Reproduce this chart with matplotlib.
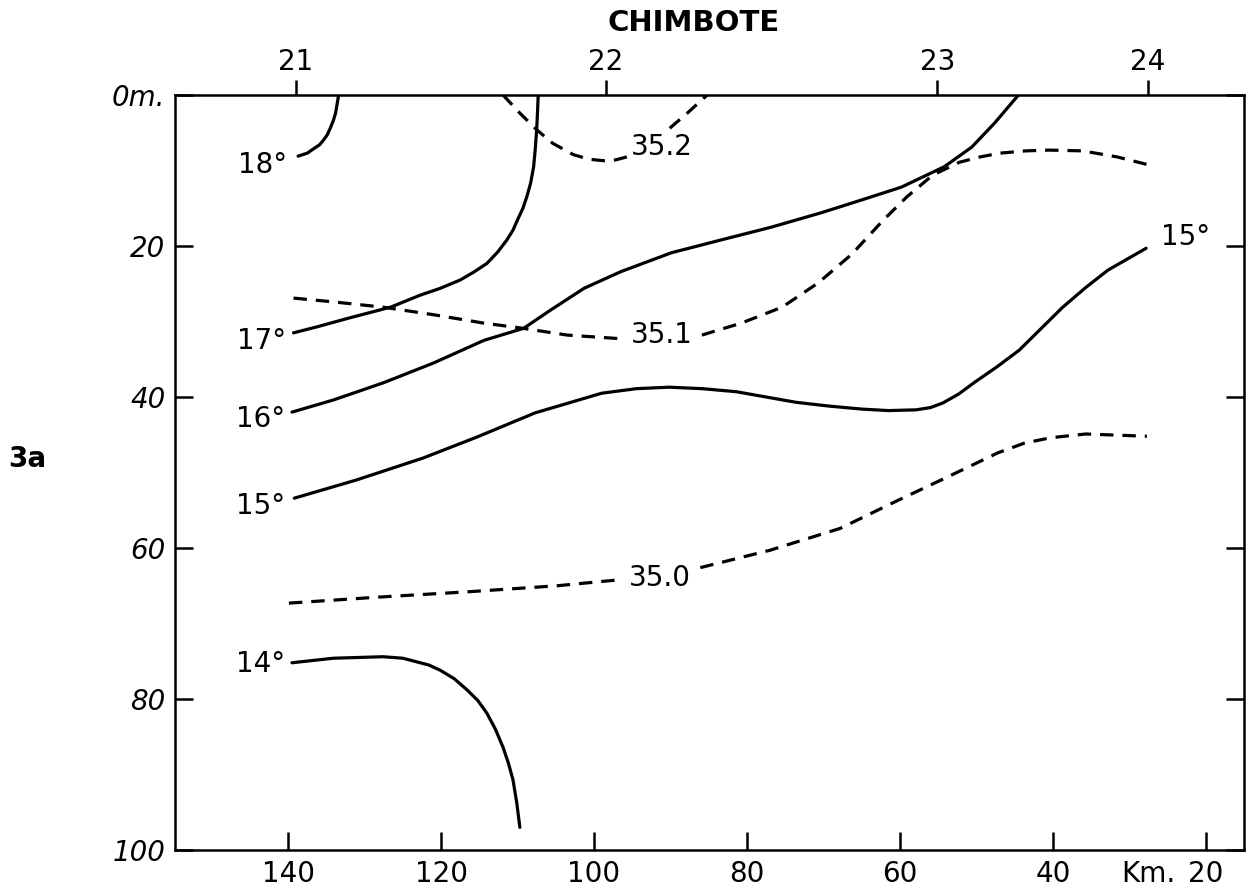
import matplotlib.pyplot as plt
plt.switch_backend('agg')

# stations along the section (distance in km) and their numbers
station_km = [139.0, 98.5, 55.1, 27.6]
station_names = ['21', '22', '23', '24']

km_ticks = [140, 120, 100, 80, 60, 40, 20]
km_labels = ['140', '120', '100', '80', '60', '40', '20']
depth_ticks = [0, 20, 40, 60, 80, 100]
depth_labels = ['0m.', '20', '40', '60', '80', '100']

# isotherms (km, depth in m)
t18_km = [133.4, 133.6, 133.8, 134.1, 134.5, 134.9, 135.4, 135.9, 136.5, 137.5, 138.1, 138.7]
t18_depth = [0.0, 1.2, 2.4, 3.4, 4.4, 5.3, 6.0, 6.6, 7.0, 7.7, 7.9, 8.1]

t17_km = [107.3, 107.4, 107.5, 107.7, 107.9, 108.3, 108.8, 109.3, 109.9, 110.6, 111.4, 112.6,
          114.0, 115.8, 117.5, 120.1, 122.7, 126.6, 131.9, 136.2, 139.3]
t17_depth = [0.0, 2.4, 4.6, 7.3, 9.5, 11.7, 13.5, 15.0, 16.3, 17.9, 19.2, 20.8,
             22.3, 23.5, 24.5, 25.6, 26.5, 28.1, 29.5, 30.7, 31.5]

t16_km = [139.5, 134.1, 127.5, 121.0, 114.4, 109.2, 105.7, 101.3, 96.5, 89.9, 83.4, 76.8,
          70.3, 65.0, 59.8, 54.2, 50.6, 47.6, 44.5]
t16_depth = [42.0, 40.4, 38.1, 35.5, 32.5, 30.9, 28.5, 25.6, 23.4, 20.9, 19.2, 17.5,
             15.6, 13.9, 12.2, 9.5, 6.9, 3.7, 0.0]

t15_km = [139.2, 131.1, 122.4, 115.3, 107.7, 99.0, 94.5, 90.2, 85.8, 81.4, 77.5, 73.6, 69.3,
          65.0, 61.5, 57.9, 56.0, 54.4, 52.3, 50.3, 47.3, 44.4, 41.5, 38.7, 35.7, 32.8, 27.8]
t15_depth = [53.4, 51.0, 48.1, 45.3, 42.1, 39.5, 38.9, 38.7, 38.9, 39.3, 40.0, 40.7, 41.2,
             41.6, 41.8, 41.7, 41.4, 40.8, 39.6, 38.1, 36.0, 33.8, 30.9, 28.1, 25.5, 23.2, 20.3]

t14_km = [139.5, 134.1, 127.6, 125.0, 123.1, 121.6, 120.1, 118.3, 116.6, 115.2, 114.0, 112.9,
          111.9, 111.2, 110.6, 110.1, 109.7]
t14_depth = [75.2, 74.6, 74.4, 74.6, 75.1, 75.5, 76.2, 77.3, 78.8, 80.2, 81.9, 84.0,
             86.4, 88.5, 90.7, 93.8, 97.0]

# isohalines, split where the inline label sits
s352_km_a = [111.9, 109.7, 107.5, 105.4, 102.7, 100.7, 98.8, 97.2, 95.7]
s352_depth_a = [0.0, 2.4, 4.6, 6.4, 7.9, 8.5, 8.7, 8.6, 8.2]
s352_km_b = [90.1, 87.8, 85.2]
s352_depth_b = [4.4, 2.4, 0.0]

s351_km_a = [139.3, 134.1, 127.6, 121.0, 114.5, 109.3, 103.5, 96.2]
s351_depth_a = [26.9, 27.4, 28.1, 29.1, 30.2, 30.9, 31.8, 32.3]
s351_km_b = [85.9, 80.7, 75.4, 70.7, 66.3, 62.2, 59.1, 55.7, 52.2, 49.5, 46.9, 43.5, 40.4,
             36.1, 31.6, 27.3]
s351_depth_b = [31.8, 30.2, 28.1, 24.9, 21.1, 16.6, 13.5, 10.6, 8.9, 8.2, 7.7, 7.4, 7.3,
                7.4, 8.2, 9.3]

s350_km_a = [139.9, 128.1, 116.5, 104.8, 96.6]
s350_depth_a = [67.3, 66.5, 65.8, 65.0, 64.2]
s350_km_b = [86.1, 77.0, 67.8, 60.9, 54.0, 47.2, 43.7, 40.3, 35.7, 27.7]
s350_depth_b = [62.6, 60.3, 57.4, 54.0, 50.7, 47.4, 46.1, 45.4, 44.9, 45.2]

# label positions (km, depth)
temp_labels = [('18°', 140.2, 9.3), ('17°', 140.3, 32.6), ('16°', 140.4, 42.9),
               ('15°', 140.4, 54.4), ('14°', 140.4, 75.4)]
sal_labels = [('35.2', 91.1, 6.9), ('35.1', 91.2, 31.8), ('35.0', 91.4, 64.0)]

fs = 20
lw = 2.3

fig = plt.figure(figsize=(12.56, 8.92), dpi=100)
ax = fig.add_axes([175/1256, 1 - 850/892, (1244 - 175)/1256, (850 - 95)/892])

for k, d in [(t18_km, t18_depth), (t17_km, t17_depth), (t16_km, t16_depth),
             (t15_km, t15_depth), (t14_km, t14_depth)]:
    ax.plot(k, d, color='black', lw=lw, solid_capstyle='round', solid_joinstyle='round')

for k, d in [(s352_km_a, s352_depth_a), (s352_km_b, s352_depth_b),
             (s351_km_a, s351_depth_a), (s351_km_b, s351_depth_b),
             (s350_km_a, s350_depth_a), (s350_km_b, s350_depth_b)]:
    ax.plot(k, d, color='black', lw=lw, dashes=(4.2, 2.8), dash_joinstyle='round')

for txt, k, d in temp_labels:
    ax.text(k, d, txt, ha='right', va='center', fontsize=fs)
for txt, k, d in sal_labels:
    ax.text(k, d, txt, ha='center', va='center', fontsize=fs)
ax.text(25.8, 18.8, '15°', ha='left', va='center', fontsize=fs)

ax.set_xlim(154.8, 15.0)
ax.set_ylim(100, 0)

ax.set_xticks(km_ticks)
ax.set_xticklabels(km_labels, fontsize=fs)
ax.set_yticks(depth_ticks)
ax.set_yticklabels(depth_labels, fontsize=fs, style='italic')
ax.tick_params(axis='both', direction='in', length=13, width=1.8, pad=7)
ax.tick_params(axis='y', right=True)
ax.annotate('Km.', xy=(20, 0), xycoords=('data', 'axes fraction'),
            xytext=(-22, -7), textcoords='offset points', ha='right', va='top', fontsize=fs)

for sp in ax.spines.values():
    sp.set_linewidth(1.8)

top = ax.secondary_xaxis('top')
top.set_xticks(station_km)
top.set_xticklabels(station_names, fontsize=fs)
top.tick_params(direction='out', length=11, width=1.8, pad=3)

fig.text(694/1256, 1 - 23/892, 'CHIMBOTE', ha='center', va='center',
         fontsize=21, fontweight='bold')
fig.text(27/1256, 1 - 459/892, '3a', ha='center', va='center',
         fontsize=20, fontweight='bold')

fig.savefig('out.png', dpi=100)
